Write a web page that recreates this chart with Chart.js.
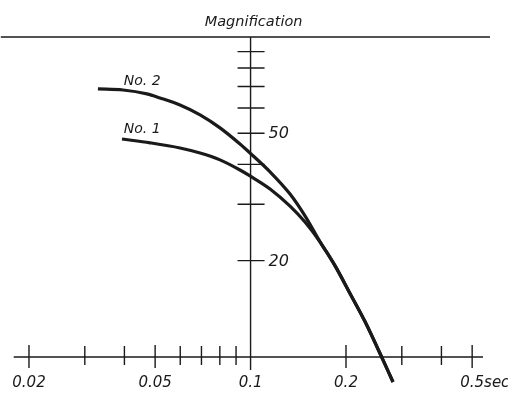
<!DOCTYPE html>
<html>
<head>
<meta charset="utf-8">
<script src="https://cdn.jsdelivr.net/npm/chart.js@4"></script>
<style>
  html, body { margin: 0; padding: 0; background: #fff; }
  #wrap { width: 508px; height: 395px; position: relative; }
</style>
</head>
<body>
<div id="wrap"><canvas id="magChart"></canvas></div>
<script>
// Period axis (sec, log) and magnification axis (log)
const xMajorTicks = [0.02, 0.05, 0.1, 0.2, 0.5];
const xMajorLabels = ['0.02', '0.05', '0.1', '0.2', '0.5'];
const xMinorTicks = [0.03, 0.04, 0.06, 0.07, 0.08, 0.09, 0.3, 0.4];
const yTicks = [20, 30, 40, 50, 60, 70, 80, 90];
const yLabeled = [20, 50];

// Curve No. 2
const no2Period = [0.0330, 0.0396, 0.0471, 0.0518, 0.0599, 0.0693, 0.0801, 0.0926, 0.0996, 0.1152, 0.1332, 0.1485, 0.1656, 0.1846, 0.2059, 0.2296, 0.2616, 0.2814];
const no2Mag = [68.8, 68.3, 66.4, 64.5, 61.3, 57.1, 52.0, 46.3, 43.4, 37.9, 32.3, 27.6, 22.9, 19.3, 15.8, 12.9, 9.79, 8.35];

// Curve No. 1 (joins No. 2 near 0.165 sec)
const no1Period = [0.0393, 0.0482, 0.0599, 0.0693, 0.0801, 0.0926, 0.0996, 0.1152, 0.1332, 0.1485, 0.1656, 0.1846, 0.2059, 0.2296, 0.2616, 0.2814];
const no1Mag = [48.0, 46.7, 45.0, 43.4, 41.3, 38.4, 36.8, 33.5, 29.6, 26.4, 22.9, 19.3, 15.8, 12.9, 9.79, 8.35];

const ink = '#1a1a1a';
const font = '"DejaVu Sans", sans-serif';

// Draw the crossing axes, ticks and lettering from the scales
const axesPlugin = {
    id: 'axes',
    beforeDatasetsDraw(chart) {
        const ctx = chart.ctx;
        const xs = chart.scales.x, ys = chart.scales.y;
        const x0 = xs.getPixelForValue(0.1);
        const y0 = ys.getPixelForValue(10);
        const yTop = ys.getPixelForValue(100);
        ctx.save();
        ctx.strokeStyle = ink;
        ctx.lineWidth = 1.4;
        ctx.beginPath();
        // top line
        ctx.moveTo(xs.getPixelForValue(0.0163), yTop);
        ctx.lineTo(xs.getPixelForValue(0.569), yTop);
        // period axis
        ctx.moveTo(xs.getPixelForValue(0.0179), y0);
        ctx.lineTo(xs.getPixelForValue(0.541), y0);
        // magnification axis
        ctx.moveTo(x0, yTop);
        ctx.lineTo(x0, ys.getPixelForValue(9.1));
        xMajorTicks.forEach(v => {
            const p = xs.getPixelForValue(v);
            ctx.moveTo(p, y0 - 12);
            ctx.lineTo(p, y0 + 11);
        });
        xMinorTicks.forEach(v => {
            const p = xs.getPixelForValue(v);
            ctx.moveTo(p, y0 - 11);
            ctx.lineTo(p, y0 + 8);
        });
        yTicks.forEach(v => {
            const p = ys.getPixelForValue(v);
            ctx.moveTo(x0 - 13, p);
            ctx.lineTo(x0 + 14, p);
        });
        ctx.stroke();

        ctx.fillStyle = ink;
        ctx.textBaseline = 'middle';
        ctx.font = 'oblique 15px ' + font;
        xMajorTicks.forEach((v, i) => {
            const p = xs.getPixelForValue(v);
            const w = ctx.measureText(xMajorLabels[i]).width;
            const txt = i === xMajorTicks.length - 1 ? xMajorLabels[i] + 'sec' : xMajorLabels[i];
            ctx.textAlign = 'left';
            ctx.fillText(txt, p - w / 2, y0 + 26);
        });
        ctx.font = 'oblique 16px ' + font;
        ctx.textAlign = 'left';
        yLabeled.forEach(v => {
            ctx.fillText(String(v), x0 + 18, ys.getPixelForValue(v) + 1);
        });
        ctx.font = 'oblique 14.5px ' + font;
        ctx.textAlign = 'center';
        ctx.fillText('Magnification', x0 + 3, 22);
        ctx.font = 'oblique 14px ' + font;
        ctx.textAlign = 'left';
        ctx.fillText('No. 2', xs.getPixelForValue(0.0398), ys.getPixelForValue(72.9));
        ctx.fillText('No. 1', xs.getPixelForValue(0.0398), ys.getPixelForValue(51.6));
        ctx.restore();
    }
};

const toPoints = (xsArr, ysArr) => xsArr.map((x, i) => ({ x: x, y: ysArr[i] }));

new Chart(document.getElementById('magChart').getContext('2d'), {
    type: 'line',
    data: {
        datasets: [
            { label: 'No. 2', data: toPoints(no2Period, no2Mag), borderColor: ink, borderWidth: 3.2, pointRadius: 0, cubicInterpolationMode: 'monotone', fill: false },
            { label: 'No. 1', data: toPoints(no1Period, no1Mag), borderColor: ink, borderWidth: 3.2, pointRadius: 0, cubicInterpolationMode: 'monotone', fill: false }
        ]
    },
    options: {
        responsive: true,
        maintainAspectRatio: false,
        animation: false,
        layout: { padding: 0 },
        plugins: { legend: { display: false }, tooltip: { enabled: false } },
        scales: {
            x: { type: 'logarithmic', min: 0.016204, max: 0.6487, bounds: 'data', display: false },
            y: { type: 'logarithmic', min: 7.606, max: 130.5, bounds: 'data', display: false }
        }
    },
    plugins: [axesPlugin]
});
</script>
</body>
</html>
